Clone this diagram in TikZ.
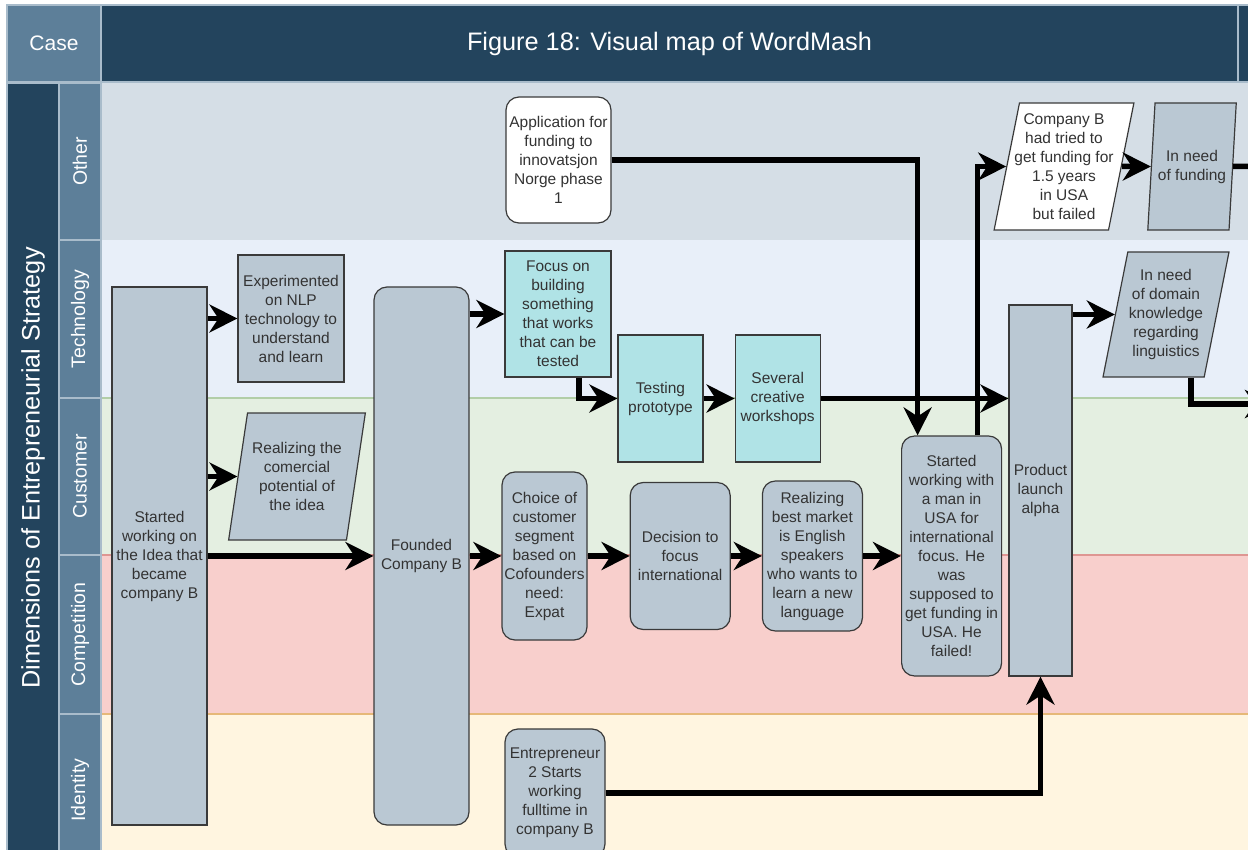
\documentclass[tikz,border=0pt]{standalone}
\usepackage{fontspec}
\setmainfont{Liberation Sans}
\usetikzlibrary{shapes.geometric,arrows.meta,positioning}
\definecolor{navy}{HTML}{23445D}
\definecolor{slate}{HTML}{5D7F99}
\definecolor{cellline}{HTML}{A9BCCB}
\definecolor{boxgray}{HTML}{BAC8D3}
\definecolor{boxteal}{HTML}{B0E3E6}
\definecolor{boxline}{HTML}{3A3A3A}
\definecolor{laneother}{HTML}{D5DEE6}
\definecolor{lanetech}{HTML}{E8EFF9}
\definecolor{lanecust}{HTML}{E4EFE1}
\definecolor{lanecomp}{HTML}{F8CFCC}
\definecolor{laneid}{HTML}{FFF5E0}
\tikzset{
    >={Stealth[length=28pt,width=28pt,inset=9pt]},
    every node/.style={font=\fontsize{15.5}{19}\selectfont, text=black!80, align=center, inner sep=1pt},
    cell/.style={draw=cellline, line width=1.5pt, text=white, inner sep=0pt},
    lane/.style={cell, fill=slate, rotate=90, minimum height=42pt, font=\fontsize{19.5}{23}\selectfont},
    plainbox/.style={draw=boxline, line width=1.2pt, fill=boxgray},
    roundbox/.style={plainbox, rounded corners=13pt},
    slantbox/.style={plainbox, trapezium, trapezium stretches=true, inner xsep=-10pt, inner ysep=0pt},
    flow/.style={->, line width=5.5pt},
}

\begin{document}
\begin{tikzpicture}[x=1pt, y=-1pt]
    \useasboundingbox (0,0) rectangle (1248,850);
    \clip (0,0) rectangle (1248,850);
    \fill[white] (0,0) rectangle (1248,850);
    \fill[laneother] (102,83) rectangle (1248,240);
    \fill[lanetech] (102,240) rectangle (1248,398);
    \fill[lanecust] (102,398) rectangle (1248,555);
    \fill[lanecomp] (102,555) rectangle (1248,714);
    \fill[laneid] (102,714) rectangle (1248,850);
    \draw[line width=1.5pt, color={rgb,255:red,178;green,206;blue,168}] (102,398) -- (1248,398);
    \draw[line width=1.5pt, color={rgb,255:red,222;green,150;blue,146}] (102,555) -- (1248,555);
    \draw[line width=1.5pt, color={rgb,255:red,230;green,184;blue,120}] (102,714) -- (1248,714);

    \node[cell, fill=slate, minimum width=94pt, minimum height=77pt, font=\fontsize{21}{25}\selectfont] (case) at (54,43.5) {Case};
    \node[cell, fill=navy, minimum width=1137pt, minimum height=77pt, font=\fontsize{25.3}{30}\selectfont] (title) at (669.5,43.5) {Figure 18: Visual map of WordMash};
    \node[cell, fill=navy, minimum width=30pt, minimum height=77pt] (next) at (1253,43.5) {};
    \node[cell, fill=navy, rotate=90, minimum width=790pt, minimum height=52pt] (dims) at (33,478) {};
    \node[text=white, rotate=90, font=\fontsize{25.3}{30}\selectfont] (dimstext) at (33,468) {Dimensions of Entrepreneurial Strategy};
    \node[lane, minimum width=157pt] (other) at (80,161.5) {Other};
    \node[lane, minimum width=158pt] (tech) at (80,319) {Technology};
    \node[lane, minimum width=157pt] (cust) at (80,476.5) {Customer};
    \node[lane, minimum width=159pt] (comp) at (80,634.5) {Competition};
    \node[lane, minimum width=152pt] (ident) at (80,790) {Identity};

    \node[plainbox, minimum width=95pt, minimum height=538pt] (1) at (159.5,556) {Started\\working on\\the Idea that\\became\\company B};
    \node[plainbox, minimum width=106pt, minimum height=127pt] (2) at (291,318.5) {Experimented\\on NLP\\technology to\\understand\\and learn};
    \node[slantbox, trapezium left angle=79, trapezium right angle=101, minimum width=138pt, minimum height=127pt] (3) at (297,476.5) {Realizing the\\comercial\\potential of\\the idea};
    \node[roundbox, minimum width=95pt, minimum height=538pt] (4) at (421.5,556) {Founded\\Company B};
    \node[roundbox, fill=white, minimum width=105pt, minimum height=126pt] (5) at (558.5,160) {Application for\\funding to\\innovatsjon\\Norge phase\\1};
    \node[plainbox, fill=boxteal, minimum width=106pt, minimum height=126pt] (6) at (558,314) {Focus on\\building\\something\\that works\\that can be\\tested};
    \node[plainbox, fill=boxteal, minimum width=85pt, minimum height=127pt] (7) at (660.5,398.5) {Testing\\prototype};
    \node[plainbox, fill=boxteal, minimum width=85pt, minimum height=127pt, right=31pt of 7] (8) {Several\\creative\\workshops};
    \node[roundbox, minimum width=85pt, minimum height=168pt] (9) at (544.5,556) {Choice of\\customer\\segment\\based on\\Cofounders\\need:\\Expat};
    \node[roundbox, minimum width=100pt, minimum height=147pt, right=42pt of 9] (10) {Decision to\\focus\\international};
    \node[roundbox, minimum width=100pt, minimum height=150pt, right=31pt of 10] (11) {Realizing\\best market\\is English\\speakers\\who wants to\\learn a new\\language};
    \node[roundbox, minimum width=100pt, minimum height=240pt, right=38pt of 11] (12) {Started\\working with\\a man in\\USA for\\international\\focus. He\\was\\supposed to\\get funding in\\USA. He\\failed!};
    \node[plainbox, minimum width=63pt, minimum height=371pt] (13) at (1040.5,490.5) {Product\\launch\\alpha};
    \node[roundbox, minimum width=100pt, minimum height=128pt] (14) at (555,793) {Entrepreneur\\2 Starts\\working\\fulltime in\\company B};
    \node[slantbox, fill=white, trapezium left angle=78, trapezium right angle=102, minimum width=140pt, minimum height=127pt] (15) at (1064,166.5) {Company B\\had tried to\\get funding for\\1.5 years\\in USA\\but failed};
    \node[slantbox, trapezium left angle=82, trapezium right angle=98, minimum width=89pt, minimum height=127pt, right=29pt of 15] (16) {In need\\of funding};
    \node[slantbox, trapezium left angle=79, trapezium right angle=101, minimum width=126pt, minimum height=125pt] (17) at (1166,314.5) {In need\\of domain\\knowledge\\regarding\\linguistics};
    \coordinate (out1) at (1290,166.5);
    \coordinate (out2) at (1273,404);

    \draw[flow] (1.east |- 2) -- (2);
    \draw[flow] (1.east |- 3.west) -- (3.west);
    \draw[flow] (1) -- (4);
    \draw[flow] (4.east |- 6) -- (6);
    \draw[flow] (4) -- (9);
    \draw[flow] ([xshift=21pt]6.south) |- (7);
    \draw[flow] (7) -- (8);
    \draw[flow] (8) -- (8 -| 13.west);
    \draw[flow] (9) -- (10);
    \draw[flow] (10) -- (11);
    \draw[flow] (11) -- (12);
    \draw[flow] (5) -| ([xshift=-34pt]12.north);
    \draw[flow] ([xshift=26pt]12.north) |- (15.west);
    \draw[flow] (15) -- (16);
    \draw[flow] (16) -- (out1);
    \draw[flow] (13.east |- 17.west) -- (17.west);
    \draw[flow] ([xshift=25pt]17.south) |- (out2);
    \draw[flow] (14) -| (13);
\end{tikzpicture}
\end{document}
